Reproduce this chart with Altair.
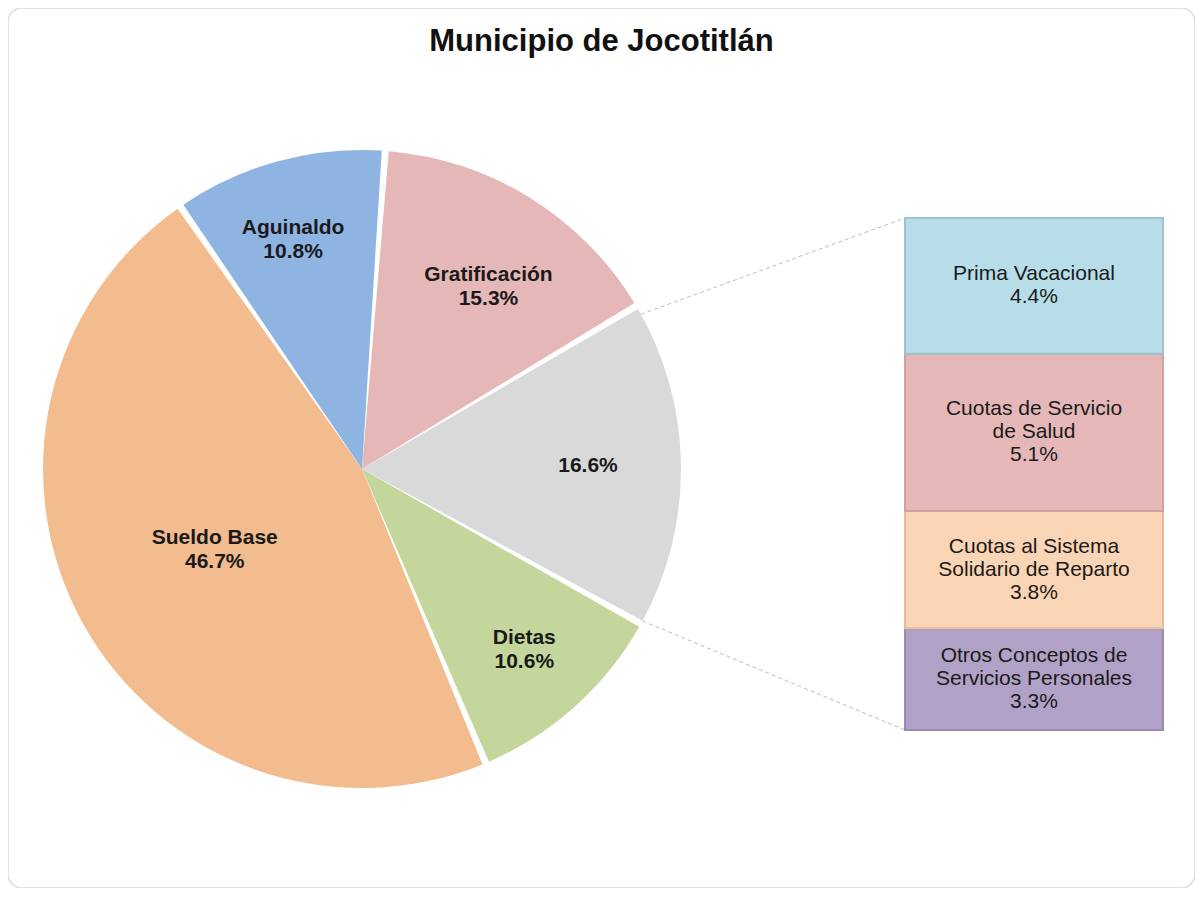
import math
import altair as alt
import pandas as pd

# ---------------- data ----------------
title_text = "Municipio de Jocotitlán"

pie_categories = ["Gratificación", "Otros", "Dietas", "Sueldo Base", "Aguinaldo"]
pie_values = [15.3, 16.6, 10.6, 46.7, 10.8]
pie_show_name = [True, False, True, True, True]
pie_colors = ["#E5B8B7", "#D9D9D9", "#C4D69B", "#F3BC8E", "#8EB4E2"]

bar_categories = [
    "Prima Vacacional",
    "Cuotas de Servicio\nde Salud",
    "Cuotas al Sistema\nSolidario de Reparto",
    "Otros Conceptos de\nServicios Personales",
]
bar_values = [4.4, 5.1, 3.8, 3.3]
bar_colors = ["#B7DDE8", "#E5B8B7", "#FAD5B5", "#B2A1C7"]
bar_edges = ["#9CC4D0", "#CFA2A1", "#E2BC9C", "#9A89B0"]

# ---------------- geometry (layout) ----------------
W, H = 1187, 880
CX, CY = 354, 461
R = 319
START = 0.073
BAR_X0, BAR_X1 = 897, 1155
BAR_TOP, BAR_BOTTOM = 210, 722
FONT = "Liberation Sans"
PIE_LH = 24
BAR_LH = 23
# label placement: (radius px, angle nudge in degrees)
LABEL_POS = {"Sueldo Base": (168, 0.0), "Aguinaldo": (239, -1.5), "Dietas": (243, 0.0),
             "Gratificación": (222, 3.0), "Otros": (226, 0.0)}

# ---------------- tables ----------------
total = float(sum(pie_values))
pie_df = pd.DataFrame({
    "cat": pie_categories,
    "value": pie_values,
    "color": pie_colors,
    "idx": list(range(len(pie_categories))),
})
pie_df["label"] = [
    (f"{c}\n{v:.1f}%" if s else f"{v:.1f}%")
    for c, v, s in zip(pie_categories, pie_values, pie_show_name)
]
cum = pie_df["value"].cumsum() - pie_df["value"]
mid = START + 2 * math.pi * (cum + pie_df["value"] / 2) / total
mid = mid + pie_df["cat"].map(lambda c: math.radians(LABEL_POS[c][1]))
nlines = pie_df["label"].str.count("\n") + 1
rads = pie_df["cat"].map(lambda c: LABEL_POS[c][0])
pie_df["lx"] = CX + rads * mid.apply(math.sin)
pie_df["ly"] = CY - rads * mid.apply(math.cos) - (nlines - 1) * PIE_LH / 2

# stack bars from the bottom (last item at bottom)
bar_df = pd.DataFrame({
    "cat": bar_categories,
    "value": bar_values,
    "color": bar_colors,
    "edge": bar_edges,
})
bar_df["label"] = [f"{c}\n{v:.1f}%" for c, v in zip(bar_categories, bar_values)]
rev = bar_df.iloc[::-1].reset_index(drop=True)
rev["y0"] = rev["value"].cumsum() - rev["value"]
rev["y1"] = rev["value"].cumsum()
bar_total = float(sum(bar_values))
px_per_unit = (BAR_BOTTOM - BAR_TOP) / bar_total
rev_lines = rev["label"].str.count("\n") + 1
# shift so that the whole multi-line block is centred in its segment
rev["ymid"] = (rev["y0"] + rev["y1"]) / 2 + (rev_lines - 1) * BAR_LH / 2 / px_per_unit

theta_scale = alt.Scale(range=[START, START + 2 * math.pi])
y_scale = alt.Scale(domain=[0, bar_total], range=[BAR_BOTTOM, BAR_TOP])

# connector lines from the "Otros" slice edges to the bar corners
i_other = pie_categories.index("Otros")
before = sum(pie_values[:i_other])
a1 = START + 2 * math.pi * before / total + 0.03
a2 = START + 2 * math.pi * (before + pie_values[i_other]) / total - 0.01
conn_df = pd.DataFrame({
    "xa": [CX + R * math.sin(a1), CX + R * math.sin(a2)],
    "ya": [CY - R * math.cos(a1), CY - R * math.cos(a2)],
    "xb": [BAR_X0, BAR_X0],
    "yb": [BAR_TOP, BAR_BOTTOM],
})

# ---------------- layers ----------------
arcs = alt.Chart(pie_df).mark_arc(outerRadius=R, padAngle=0.022).encode(
    theta=alt.Theta("value:Q", stack=True, scale=theta_scale),
    color=alt.Color("color:N", scale=None),
    order=alt.Order("idx:Q"),
    x=alt.value(CX),
    y=alt.value(CY),
)

pie_labels = alt.Chart(pie_df).mark_text(
    font=FONT, fontSize=21, fontWeight="bold", lineBreak="\n", lineHeight=PIE_LH,
    color="#1A1A1A", align="center", baseline="middle",
).encode(
    x=alt.X("lx:Q", scale=None, axis=None),
    y=alt.Y("ly:Q", scale=None, axis=None),
    text="label:N",
)

connectors = alt.Chart(conn_df).mark_rule(
    color="#BDBDBD", strokeWidth=1, strokeDash=[4, 3]
).encode(
    x=alt.X("xa:Q", scale=None, axis=None),
    y=alt.Y("ya:Q", scale=None, axis=None),
    x2="xb:Q",
    y2="yb:Q",
)

bars = alt.Chart(rev).mark_rect(strokeWidth=2).encode(
    x=alt.value(BAR_X0),
    x2=alt.value(BAR_X1),
    y=alt.Y("y0:Q", scale=y_scale, axis=None),
    y2="y1:Q",
    color=alt.Color("color:N", scale=None),
    stroke=alt.Stroke("edge:N", scale=None),
)

bar_labels = alt.Chart(rev).mark_text(
    font=FONT, fontSize=21, lineBreak="\n", lineHeight=BAR_LH,
    color="#1A1A1A", align="center", baseline="middle",
).encode(
    x=alt.value((BAR_X0 + BAR_X1) / 2),
    y=alt.Y("ymid:Q", scale=y_scale, axis=None),
    text="label:N",
)

chart = alt.layer(
    connectors, arcs, pie_labels, bars, bar_labels
).resolve_scale(
    x="independent", y="independent"
).properties(
    width=W,
    height=H,
    autosize=alt.AutoSizeParams(type="none"),
    padding=0,
    background="white",
    title=alt.TitleParams(
        title_text, font=FONT, fontSize=31, fontWeight="bold",
        color="#111111", anchor="middle", dy=54,
    ),
).configure_view(
    stroke="#E2E2DE", strokeWidth=2, cornerRadius=14,
)

chart.save("out.html", embed_options={"renderer": "svg", "actions": False})
